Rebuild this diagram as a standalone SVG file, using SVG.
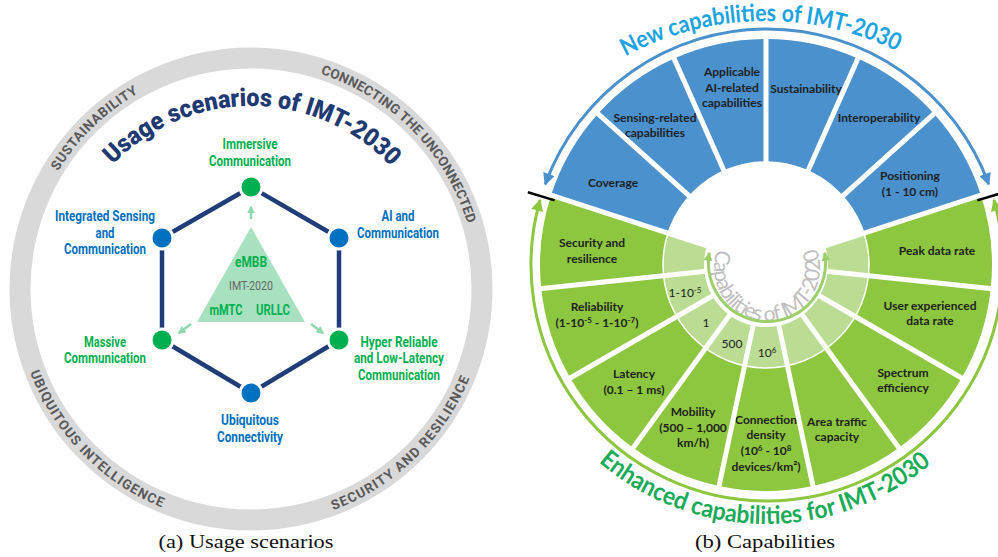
<svg xmlns="http://www.w3.org/2000/svg" width="998" height="557" viewBox="0 0 998 557">
<defs>
<style>
.lb{font-family:Roboto,'Liberation Sans',sans-serif;font-weight:700;font-size:14px;text-anchor:middle}
.gt{fill:#00b050}
.bt{fill:#0070c0}
.ng{fill:#00b050;stroke:#fff;stroke-width:3}
.nb{fill:#0070c0;stroke:#fff;stroke-width:3}
.ring{font-family:Roboto,'Liberation Sans',sans-serif;font-weight:700;font-size:13.5px;fill:#595959;text-anchor:middle}
.ttlA{font-family:Roboto,'Liberation Sans',sans-serif;font-weight:900;font-size:25px;fill:#1f3a73;text-anchor:middle}
.ttlB{font-family:Lato,'Liberation Sans',sans-serif;font-weight:700;font-size:24px;text-anchor:middle}
.inner{font-family:Lato,'Liberation Sans',sans-serif;font-weight:400;font-size:21px;fill:#bfbfbf;text-anchor:middle}
.w{font-family:Lato,'Liberation Sans',sans-serif;font-weight:700;font-size:12px;fill:#1e1e1e;text-anchor:middle}
.v{font-family:Lato,'Liberation Sans',sans-serif;font-weight:400;font-size:12px;fill:#1e1e1e;text-anchor:middle}
.edge{stroke:#203d79;stroke-width:4.5;fill:none}
.sm{stroke:#8fd9ae;stroke-width:2.5;fill:none}
.div{stroke:#fff;stroke-width:5;fill:none}
.bw{fill:#4a91cd}
.gw{fill:#8dc63f}
.lw{fill:#badc93}
.cap{font-family:'Liberation Serif','DejaVu Serif',serif;font-size:19px;fill:#111;text-anchor:middle}
</style>
<path id="pRingTop" d="M 25 289 A 226 226 0 0 1 477 289"/>
<path id="pRingBot" d="M 15 289 A 236 236 0 0 0 487 289"/>
<path id="pTitleA" d="M 59 298 A 192 192 0 0 1 443 298"/>
<path id="pTitleB1" d="M 468 319 A 298 298 0 0 1 1064 319"/>
<path id="pTitleB2" d="M 509 267 A 257 257 0 0 0 1023 267"/>
<path id="pInner" d="M 723.59 237.6 A 53 53 0 1 0 810.41 237.6"/>
<marker id="mBlue" viewBox="0 0 10 10" refX="9" refY="5" markerWidth="13" markerHeight="12" markerUnits="userSpaceOnUse" orient="auto-start-reverse"><path d="M0,0 L10,5 L0,10 z" fill="#4a91cd"/></marker>
<marker id="mGreen" viewBox="0 0 10 10" refX="9" refY="5" markerWidth="13" markerHeight="12" markerUnits="userSpaceOnUse" orient="auto-start-reverse"><path d="M0,0 L10,5 L0,10 z" fill="#8dc63f"/></marker>
<marker id="mInner" viewBox="0 0 10 10" refX="9" refY="5" markerWidth="9" markerHeight="9" markerUnits="userSpaceOnUse" orient="auto-start-reverse"><path d="M0,0 L10,5 L0,10 z" fill="#9ccf6a"/></marker>
<marker id="mSmall" viewBox="0 0 10 10" refX="8" refY="5" markerWidth="8" markerHeight="8" markerUnits="userSpaceOnUse" orient="auto"><path d="M0,0 L10,5 L0,10 z" fill="#8fd9ae"/></marker>
</defs>
<rect width="998" height="557" fill="#fff"/>

<!-- ================= (a) Usage scenarios ================= -->
<g id="ring-a">
<circle cx="251" cy="289" r="231" fill="none" stroke="#d9d9d9" stroke-width="21"/>
<text class="ring"><textPath href="#pRingTop" startOffset="180.3" textLength="113">SUSTAINABILITY</textPath></text>
<text class="ring"><textPath href="#pRingTop" startOffset="534.4" textLength="218">CONNECTING THE UNCONNECTED</textPath></text>
<text class="ring"><textPath href="#pRingBot" startOffset="182" textLength="194">UBIQUITOUS INTELLIGENCE</textPath></text>
<text class="ring"><textPath href="#pRingBot" startOffset="552" textLength="195">SECURITY AND RESILIENCE</textPath></text>
</g>
<g id="title-a">
<text class="ttlA"><textPath href="#pTitleA" startOffset="302.9" textLength="311" lengthAdjust="spacingAndGlyphs">Usage scenarios of IMT-2030</textPath></text>
</g>

<g id="connectors-a">
<line class="edge" x1="251" y1="187" x2="162" y2="238"/>
<line class="edge" x1="251" y1="187" x2="339" y2="238"/>
<line class="edge" x1="162" y1="238" x2="162" y2="340"/>
<line class="edge" x1="339" y1="238" x2="339" y2="340"/>
<line class="edge" x1="162" y1="340" x2="251" y2="393"/>
<line class="edge" x1="339" y1="340" x2="251" y2="393"/>
<line class="sm" x1="251" y1="219" x2="251" y2="207" marker-end="url(#mSmall)"/>
<line class="sm" x1="191" y1="324" x2="179" y2="333" marker-end="url(#mSmall)"/>
<line class="sm" x1="311" y1="324" x2="323" y2="333" marker-end="url(#mSmall)"/>
</g>

<g id="imt2020">
<polygon points="251,227 197,322 305,322" fill="#a8e1c0"/>
<text class="lb gt" x="251" y="267" textLength="32" lengthAdjust="spacingAndGlyphs">eMBB</text>
<text class="lb" x="251" y="290" style="font-weight:400;font-size:12.5px;fill:#666" textLength="44" lengthAdjust="spacingAndGlyphs">IMT-2020</text>
<text class="lb gt" x="226" y="315" textLength="33" lengthAdjust="spacingAndGlyphs">mMTC</text>
<text class="lb gt" x="273" y="315" textLength="34" lengthAdjust="spacingAndGlyphs">URLLC</text>
</g>

<g id="n-immersive">
<circle class="ng" cx="251" cy="187" r="11"/>
<text class="lb gt" x="250" y="149" textLength="55" lengthAdjust="spacingAndGlyphs">Immersive</text>
<text class="lb gt" x="250" y="166" textLength="82" lengthAdjust="spacingAndGlyphs">Communication</text>
</g>
<g id="n-isac">
<circle class="nb" cx="162" cy="238" r="11"/>
<text class="lb bt" x="105" y="221" textLength="100" lengthAdjust="spacingAndGlyphs">Integrated Sensing</text>
<text class="lb bt" x="105" y="238" textLength="19" lengthAdjust="spacingAndGlyphs">and</text>
<text class="lb bt" x="105" y="254" textLength="82" lengthAdjust="spacingAndGlyphs">Communication</text>
</g>
<g id="n-ai">
<circle class="nb" cx="339" cy="238" r="11"/>
<text class="lb bt" x="398" y="221" textLength="33" lengthAdjust="spacingAndGlyphs">AI and</text>
<text class="lb bt" x="398" y="238" textLength="82" lengthAdjust="spacingAndGlyphs">Communication</text>
</g>
<g id="n-massive">
<circle class="ng" cx="162" cy="340" r="11"/>
<text class="lb gt" x="105" y="347" textLength="42" lengthAdjust="spacingAndGlyphs">Massive</text>
<text class="lb gt" x="105" y="363" textLength="82" lengthAdjust="spacingAndGlyphs">Communication</text>
</g>
<g id="n-hrllc">
<circle class="ng" cx="339" cy="340" r="11"/>
<text class="lb gt" x="399" y="347" textLength="77" lengthAdjust="spacingAndGlyphs">Hyper Reliable</text>
<text class="lb gt" x="399" y="363" textLength="90" lengthAdjust="spacingAndGlyphs">and Low-Latency</text>
<text class="lb gt" x="399" y="380" textLength="82" lengthAdjust="spacingAndGlyphs">Communication</text>
</g>
<g id="n-ubiquitous">
<circle class="nb" cx="251" cy="393" r="11"/>
<text class="lb bt" x="250" y="425" textLength="58" lengthAdjust="spacingAndGlyphs">Ubiquitous</text>
<text class="lb bt" x="250" y="442" textLength="66" lengthAdjust="spacingAndGlyphs">Connectivity</text>
</g>

<text class="cap" x="246" y="548" textLength="175" lengthAdjust="spacingAndGlyphs">(a) Usage scenarios</text>

<!-- ================= (b) Capabilities ================= -->
<g id="titles-b">
<text class="ttlB" fill="#1ca3e0"><textPath href="#pTitleB1" startOffset="462.4" textLength="282" lengthAdjust="spacingAndGlyphs">New capabilities of IMT-2030</textPath></text>
<text class="ttlB" fill="#1aab58" style="font-size:25px"><textPath href="#pTitleB2" startOffset="402.1" textLength="362" lengthAdjust="spacingAndGlyphs">Enhanced capabilities for IMT-2030</textPath></text>
<text class="inner"><textPath href="#pInner" startOffset="116.1" textLength="206">Capabilities of IMT-2020</textPath></text>
</g>

<g id="w-coverage">
<path class="bw" d="M 551.06 195.16 A 226 226 0 0 1 598.05 113.78 L 689.46 196.08 A 103 103 0 0 0 668.04 233.17 Z"/>
<text class="w" x="613" y="187">Coverage</text>
</g>
<g id="w-sensing">
<path class="bw" d="M 598.05 113.78 A 226 226 0 0 1 674.08 58.54 L 724.11 170.90 A 103 103 0 0 0 689.46 196.08 Z"/>
<text class="w" x="655" y="122">Sensing-related</text>
<text class="w" x="655" y="137">capabilities</text>
</g>
<g id="w-ai">
<path class="bw" d="M 674.08 58.54 A 226 226 0 0 1 766 39 L 766 162 A 103 103 0 0 0 724.11 170.90 Z"/>
<text class="w" x="732" y="76">Applicable</text>
<text class="w" x="732" y="92">AI-related</text>
<text class="w" x="732" y="107">capabilities</text>
</g>
<g id="w-sustainability">
<path class="bw" d="M 766 39 A 226 226 0 0 1 857.92 58.54 L 807.89 170.90 A 103 103 0 0 0 766 162 Z"/>
<text class="w" x="806" y="93">Sustainability</text>
</g>
<g id="w-interoperability">
<path class="bw" d="M 857.92 58.54 A 226 226 0 0 1 933.95 113.78 L 842.54 196.08 A 103 103 0 0 0 807.89 170.90 Z"/>
<text class="w" x="879" y="122">Interoperability</text>
</g>
<g id="w-positioning">
<path class="bw" d="M 933.95 113.78 A 226 226 0 0 1 980.94 195.16 L 863.96 233.17 A 103 103 0 0 0 842.54 196.08 Z"/>
<text class="w" x="910" y="180">Positioning</text>
<text class="w" x="910" y="196">(1 - 10 cm)</text>
</g>

<g id="w-peak">
<path class="gw" d="M 980.94 195.16 A 226 226 0 0 1 990.76 288.62 L 868.44 275.77 A 103 103 0 0 0 863.96 233.17 Z"/>
<path class="lw" d="M 863.96 233.17 A 103 103 0 0 1 868.44 275.77 L 827.66 271.48 A 62 62 0 0 0 824.97 245.84 Z"/>
<text class="w" x="937" y="255">Peak data rate</text>
</g>
<g id="w-user">
<path class="gw" d="M 990.76 288.62 A 226 226 0 0 1 961.72 378 L 855.20 316.5 A 103 103 0 0 0 868.44 275.77 Z"/>
<path class="lw" d="M 868.44 275.77 A 103 103 0 0 1 855.20 316.5 L 819.69 296 A 62 62 0 0 0 827.66 271.48 Z"/>
<text class="w" x="930" y="310">User experienced</text>
<text class="w" x="930" y="325">data rate</text>
</g>
<g id="w-spectrum">
<path class="gw" d="M 961.72 378 A 226 226 0 0 1 898.84 447.84 L 826.54 348.33 A 103 103 0 0 0 855.20 316.5 Z"/>
<path class="lw" d="M 855.20 316.5 A 103 103 0 0 1 826.54 348.33 L 802.44 315.16 A 62 62 0 0 0 819.69 296 Z"/>
<text class="w" x="903" y="377">Spectrum</text>
<text class="w" x="903" y="392">efficiency</text>
</g>
<g id="w-area">
<path class="gw" d="M 898.84 447.84 A 226 226 0 0 1 812.99 486.06 L 787.41 365.75 A 103 103 0 0 0 826.54 348.33 Z"/>
<path class="lw" d="M 826.54 348.33 A 103 103 0 0 1 787.41 365.75 L 778.89 325.65 A 62 62 0 0 0 802.44 315.16 Z"/>
<text class="w" x="837" y="426">Area traffic</text>
<text class="w" x="837" y="441">capacity</text>
</g>
<g id="w-connection">
<path class="gw" d="M 812.99 486.06 A 226 226 0 0 1 719.01 486.06 L 744.59 365.75 A 103 103 0 0 0 787.41 365.75 Z"/>
<path class="lw" d="M 787.41 365.75 A 103 103 0 0 1 744.59 365.75 L 753.11 325.65 A 62 62 0 0 0 778.89 325.65 Z"/>
<text class="v" x="767" y="357">10<tspan dy="-4" font-size="8">6</tspan></text>
<text class="w" x="766" y="424">Connection</text>
<text class="w" x="766" y="439">density</text>
<text class="w" x="766" y="455">(10<tspan dy="-4" font-size="8">6</tspan><tspan dy="4"> - 10</tspan><tspan dy="-4" font-size="8">8</tspan></text>
<text class="w" x="766" y="471">devices/km²)</text>
</g>
<g id="w-mobility">
<path class="gw" d="M 719.01 486.06 A 226 226 0 0 1 633.16 447.84 L 705.46 348.33 A 103 103 0 0 0 744.59 365.75 Z"/>
<path class="lw" d="M 744.59 365.75 A 103 103 0 0 1 705.46 348.33 L 729.56 315.16 A 62 62 0 0 0 753.11 325.65 Z"/>
<text class="v" x="732" y="348">500</text>
<text class="w" x="693" y="416">Mobility</text>
<text class="w" x="693" y="432">(500 – 1,000</text>
<text class="w" x="693" y="447">km/h)</text>
</g>
<g id="w-latency">
<path class="gw" d="M 633.16 447.84 A 226 226 0 0 1 570.28 378 L 676.80 316.5 A 103 103 0 0 0 705.46 348.33 Z"/>
<path class="lw" d="M 705.46 348.33 A 103 103 0 0 1 676.80 316.5 L 712.31 296 A 62 62 0 0 0 729.56 315.16 Z"/>
<text class="v" x="706" y="327">1</text>
<text class="w" x="634" y="378">Latency</text>
<text class="w" x="634" y="394">(0.1 – 1 ms)</text>
</g>
<g id="w-reliability">
<path class="gw" d="M 570.28 378 A 226 226 0 0 1 541.24 288.62 L 663.56 275.77 A 103 103 0 0 0 676.80 316.5 Z"/>
<path class="lw" d="M 676.80 316.5 A 103 103 0 0 1 663.56 275.77 L 704.34 271.48 A 62 62 0 0 0 712.31 296 Z"/>
<text class="v" x="685" y="297">1-10<tspan dy="-4" font-size="8">-5</tspan></text>
<text class="w" x="597" y="311">Reliability</text>
<text class="w" x="597" y="327">(1-10<tspan dy="-4" font-size="8">-5</tspan><tspan dy="4"> - 1-10</tspan><tspan dy="-4" font-size="8">-7</tspan><tspan dy="4">)</tspan></text>
</g>
<g id="w-security">
<path class="gw" d="M 541.24 288.62 A 226 226 0 0 1 551.06 195.16 L 668.04 233.17 A 103 103 0 0 0 663.56 275.77 Z"/>
<path class="lw" d="M 663.56 275.77 A 103 103 0 0 1 668.04 233.17 L 707.03 245.84 A 62 62 0 0 0 704.34 271.48 Z"/>
<text class="w" x="592" y="247">Security and</text>
<text class="w" x="592" y="263">resilience</text>
</g>

<g id="connectors-b">
<circle cx="766" cy="265" r="103" fill="none" stroke="#fff" stroke-width="1.5"/>
<line class="div" x1="710.84" y1="247.08" x2="547.26" y2="193.93"/>
<line class="div" x1="691.69" y1="198.09" x2="595.08" y2="111.10"/>
<line class="div" x1="725.33" y1="173.65" x2="672.45" y2="54.88"/>
<line class="div" x1="766" y1="165" x2="766" y2="35"/>
<line class="div" x1="806.67" y1="173.65" x2="859.55" y2="54.88"/>
<line class="div" x1="840.31" y1="198.09" x2="936.92" y2="111.10"/>
<line class="div" x1="821.16" y1="247.08" x2="984.74" y2="193.93"/>
<line class="div" x1="823.68" y1="271.06" x2="994.74" y2="289.04"/>
<line class="div" x1="816.23" y1="294" x2="965.19" y2="380"/>
<line class="div" x1="800.09" y1="311.92" x2="901.19" y2="451.07"/>
<line class="div" x1="778.06" y1="321.73" x2="813.82" y2="489.97"/>
<line class="div" x1="753.94" y1="321.73" x2="718.18" y2="489.97"/>
<line class="div" x1="731.91" y1="311.92" x2="630.81" y2="451.07"/>
<line class="div" x1="715.77" y1="294" x2="566.81" y2="380"/>
<line class="div" x1="708.32" y1="271.06" x2="537.26" y2="289.04"/>
<path d="M 545.23 184.28 A 236 236 0 0 1 988.77 184.28" fill="none" stroke="#4a91cd" stroke-width="3" marker-start="url(#mBlue)" marker-end="url(#mBlue)"/>
<path d="M 540.14 199.95 A 236 236 0 1 0 993.86 199.95" fill="none" stroke="#8dc63f" stroke-width="3" marker-start="url(#mGreen)" marker-end="url(#mGreen)"/>
<path d="M 709.29 252.82 A 58.6 58.6 0 1 0 824.71 252.82" fill="none" stroke="#9ccf6a" stroke-width="3" marker-start="url(#mInner)" marker-end="url(#mInner)"/>
<line x1="554.66" y1="200.39" x2="527.88" y2="192.20" stroke="#000" stroke-width="2.5"/>
<line x1="977.34" y1="200.39" x2="1004.12" y2="192.20" stroke="#000" stroke-width="2.5"/>
</g>

<text class="cap" x="765" y="548" textLength="140" lengthAdjust="spacingAndGlyphs">(b) Capabilities</text>
</svg>
